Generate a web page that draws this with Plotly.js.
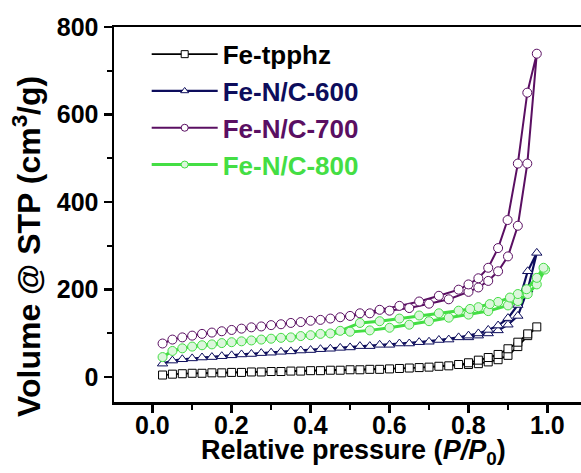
<!DOCTYPE html>
<html>
<head>
<meta charset="utf-8">
<script src="https://cdn.plot.ly/plotly-3.0.1.min.js"></script>
<style>html,body{margin:0;padding:0;background:#fff;}#chart{width:581px;height:473px;}</style>
</head>
<body>
<div id="chart"></div>
<script>
// Series names
var seriesNames = ["Fe-tpphz", "Fe-N/C-600", "Fe-N/C-700", "Fe-N/C-800"];

// Fe-tpphz: adsorption then desorption (P/P0, volume cm3/g)
var tpphzP = [0.025,0.05,0.075,0.1,0.15,0.2,0.25,0.3,0.35,0.4,0.45,0.5,0.55,0.6,0.65,0.7,0.75,0.8,0.825,0.85,0.875,0.9,0.925,0.95,0.973,
              0.95,0.925,0.9,0.875,0.85,0.825,0.8,0.775,0.725,0.675,0.625,0.575,0.525,0.475,0.425,0.375,0.325,0.275,0.225,0.175,0.125];
var tpphzV = [5,7,8,9,10,11,12,13,14,15,16,17,18,19,21,23,26,29,31,35,40,50,70,95,115,
              99,80,65,52,45,39,33,29,25,22,20,18,17,16,15,14,13,12,11,10,9];

// Fe-N/C-600
var nc600P = [0.025,0.05,0.075,0.1,0.15,0.2,0.25,0.3,0.35,0.4,0.45,0.5,0.55,0.6,0.65,0.7,0.75,0.8,0.825,0.85,0.875,0.9,0.925,0.95,0.973,
              0.95,0.925,0.9,0.875,0.85,0.825,0.8,0.775,0.725,0.675,0.625,0.575,0.525,0.475,0.425,0.375,0.325,0.275,0.225,0.175,0.125];
var nc600V = [31,38,41,43,46,50,53,56,59,62,65,68,71,74,77,81,86,91,95,100,107,120,140,200,284,
              242,165,135,118,108,100,95,91,85,80,77,74,71,67,64,61,58,55,52,48,45];

// Fe-N/C-700
var nc700P = [0.025,0.05,0.075,0.1,0.15,0.2,0.25,0.3,0.35,0.4,0.45,0.5,0.55,0.6,0.65,0.7,0.75,0.8,0.825,0.85,0.875,0.9,0.925,0.949,0.973,
              0.949,0.925,0.899,0.875,0.85,0.825,0.8,0.775,0.725,0.675,0.625,0.575,0.525,0.475,0.425,0.375,0.325,0.275,0.225,0.175,0.125];
var nc700V = [77,86,91,95,102,108,114,119,124,129,134,140,146,152,158,168,178,195,205,220,242,276,346,488,739,
              650,488,359,295,250,226,212,200,186,173,163,154,146,137,131,126,121,116,111,105,99];

// Fe-N/C-800
var nc800P = [0.025,0.05,0.075,0.1,0.15,0.2,0.25,0.3,0.35,0.4,0.45,0.5,0.55,0.6,0.65,0.7,0.75,0.8,0.85,0.9,0.925,0.95,0.973,0.994,
              0.99,0.973,0.947,0.925,0.905,0.875,0.854,0.825,0.804,0.775,0.725,0.675,0.625,0.575,0.525,0.475,0.425,0.375,0.325,0.275,0.225,0.175,0.125];
var nc800V = [46,60,66,70,75,80,84,88,91,96,100,104,107,113,120,128,136,143,151,164,174,190,212,246,
              250,227,201,190,182,172,167,160,156,152,146,141,134,128,124,106,99,94,90,86,82,78,73];

// Axis tick values and titles
var xTicks = [0.0,0.2,0.4,0.6,0.8,1.0];
var xTickText = ["0.0","0.2","0.4","0.6","0.8","1.0"];
var yTicks = [0,200,400,600,800];
var xTitle = "Relative pressure (<i>P/P</i><sub>0</sub>)";
var yTitle = "Volume @ STP (cm<sup>3</sup>/g)";

var lineColors = ["#000000", "#0d0d5c", "#5a0f62", "#44de44"];
var fillColors = ["#ffffff", "#ffffff", "#ffffff", "#dcf6dc"];
var symbols = ["square", "triangle-up", "circle", "circle"];
var lineWidths = [1.8, 2.2, 2, 3];
var markerSizes = [8, 9, 9, 9];
var xs = [tpphzP, nc600P, nc700P, nc800P];
var ys = [tpphzV, nc600V, nc700V, nc800V];

var traces = [];
seriesNames.forEach(function(n, i) {
  traces.push({
    x: xs[i], y: ys[i], type: "scatter", mode: "lines+markers",
    name: n, showlegend: false,
    line: {color: lineColors[i], width: lineWidths[i]},
    marker: {symbol: symbols[i], size: markerSizes[i], color: fillColors[i],
             line: {color: lineColors[i], width: 1}}
  });
});
// legend-only entries (smaller legend markers, coloured text)
seriesNames.forEach(function(n, i) {
  traces.push({
    x: [null], y: [null], type: "scatter", mode: "lines+markers",
    name: '<span style="color:' + lineColors[i] + '">' + n + '</span>',
    legendgroup: "g" + i, showlegend: true,
    line: {color: lineColors[i], width: lineWidths[i]},
    marker: {symbol: symbols[i], size: 7, color: fillColors[i],
             line: {color: lineColors[i], width: 1}}
  });
});

var fontFam = "Liberation Sans, Arial, sans-serif";
var annots = xTicks.map(function(v, i) {
  return {text: xTickText[i], xref: "x", yref: "paper", x: v, y: 0, xanchor: "center", yanchor: "middle",
          yshift: -23, showarrow: false, font: {size: 25, family: fontFam, weight: "bold", color: "#000"}};
});
annots.push({text: xTitle, xref: "paper", yref: "paper", x: 0.5, y: 0, xanchor: "center", yanchor: "middle",
     xshift: 6, yshift: -50, showarrow: false, font: {size: 27, family: fontFam, weight: "bold", color: "#000"}});
annots.push({text: yTitle, xref: "paper", yref: "paper", x: 0, y: 0.4133, xanchor: "center", yanchor: "middle",
     xshift: -87, textangle: -90, showarrow: false, font: {size: 32, family: fontFam, weight: "bold", color: "#000"}});

var layout = {
  width: 581, height: 473,
  margin: {l: 114, r: 0, t: 27, b: 71},
  paper_bgcolor: "#ffffff", plot_bgcolor: "#ffffff",
  font: {family: fontFam, color: "#000", weight: "bold"},
  showlegend: true,
  legend: {x: 0.07, y: 0.99, xanchor: "left", yanchor: "top",
           font: {size: 26, family: fontFam, weight: "bold"},
           itemwidth: 66, bgcolor: "rgba(0,0,0,0)", tracegroupgap: 0},
  xaxis: {
    range: [-0.098, 1.085], showgrid: false, zeroline: false,
    showline: true, linecolor: "#000", linewidth: 2.5, mirror: true,
    ticks: "outside", ticklen: 8, tickwidth: 2.5, tickcolor: "#000",
    tickvals: xTicks, showticklabels: false,
    minor: {dtick: 0.1, tick0: 0, ticks: "outside", ticklen: 5, tickwidth: 2, tickcolor: "#000"}
  },
  yaxis: {
    range: [-56.6, 800], showgrid: false, zeroline: false,
    showline: true, linecolor: "#000", linewidth: 2.5, mirror: false,
    ticks: "outside", ticklen: 8, tickwidth: 2.5, tickcolor: "#000",
    tickvals: yTicks,
    tickfont: {size: 25, family: fontFam, weight: "bold"},
    minor: {dtick: 100, tick0: 0, ticks: "outside", ticklen: 5, tickwidth: 2, tickcolor: "#000"}
  },
  annotations: annots
};

Plotly.newPlot("chart", traces, layout, {displayModeBar: false, staticPlot: true});
</script>
</body>
</html>
